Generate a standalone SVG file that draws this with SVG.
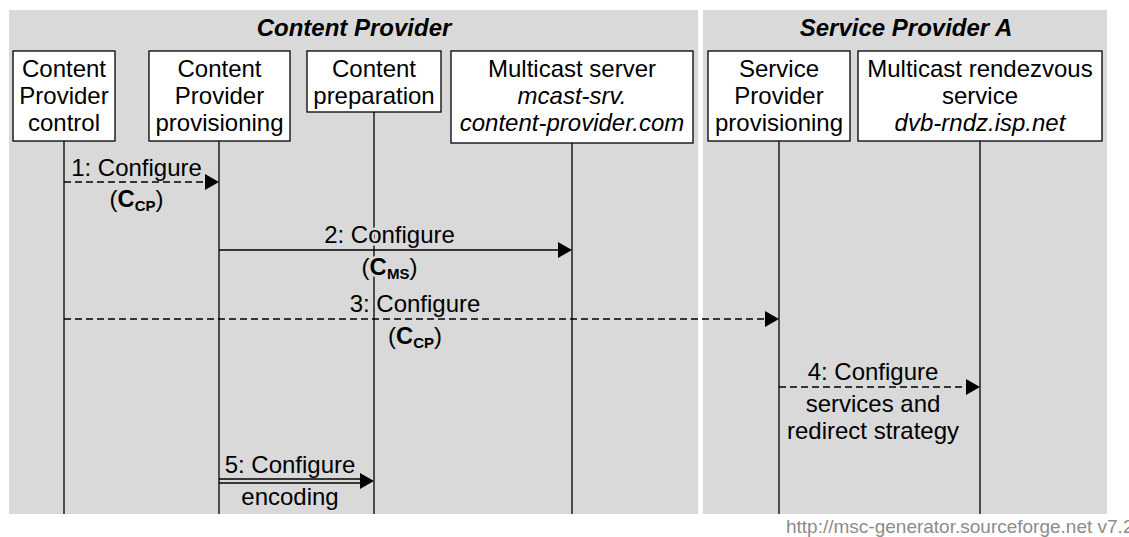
<svg xmlns="http://www.w3.org/2000/svg" width="1129" height="537" viewBox="0 0 1129 537">
<style>
text{font-family:"Liberation Sans",Arial,sans-serif;font-size:24px;fill:#000}
.hdr{font-weight:bold;font-style:italic;text-anchor:middle}
.ent{text-anchor:middle}
.it{font-style:italic}
.box{fill:#fff;stroke:#000;stroke-width:1.3}
.life{stroke:#000;stroke-width:1.3;fill:none}
.lbl{text-anchor:middle;stroke:#d9d9d9;stroke-width:5;stroke-linejoin:round;paint-order:stroke}
.solid{stroke:#000;stroke-width:1.3;fill:none}
.dash{stroke:#000;stroke-width:1.3;fill:none;stroke-dasharray:7,4}
.head{fill:#000}
.b{font-weight:bold}
.sub{font-weight:bold;font-size:15px}
</style>
<rect width="1129" height="537" fill="#fff"/>
<g id="group-content-provider">
<rect x="9" y="10" width="689" height="504" fill="#d9d9d9"/>
<text class="hdr" x="354" y="36">Content Provider</text>
</g>
<g id="group-service-provider-a">
<rect x="703" y="10" width="404" height="504" fill="#d9d9d9"/>
<text class="hdr" x="906" y="36">Service Provider A</text>
</g>
<g id="lifelines">
<line class="life" x1="64" y1="141" x2="64" y2="514"/>
<line class="life" x1="219" y1="141" x2="219" y2="514"/>
<line class="life" x1="374" y1="112" x2="374" y2="514"/>
<line class="life" x1="572" y1="143" x2="572" y2="514"/>
<line class="life" x1="779" y1="141" x2="779" y2="514"/>
<line class="life" x1="980" y1="141" x2="980" y2="514"/>
</g>
<g id="node-cp-control">
<rect class="box" x="13" y="51" width="102" height="90"/>
<text class="ent" x="64" y="77">Content</text>
<text class="ent" x="64" y="104">Provider</text>
<text class="ent" x="64" y="131">control</text>
</g>
<g id="node-cp-provisioning">
<rect class="box" x="149" y="51" width="141" height="90"/>
<text class="ent" x="219.5" y="77">Content</text>
<text class="ent" x="219.5" y="104">Provider</text>
<text class="ent" x="219.5" y="131">provisioning</text>
</g>
<g id="node-content-preparation">
<rect class="box" x="307" y="51" width="134" height="61"/>
<text class="ent" x="374" y="77">Content</text>
<text class="ent" x="374" y="104">preparation</text>
</g>
<g id="node-multicast-server">
<rect class="box" x="451" y="51" width="242" height="92"/>
<text class="ent" x="572" y="77">Multicast server</text>
<text class="ent it" x="572" y="104">mcast-srv.</text>
<text class="ent it" x="572" y="131">content-provider.com</text>
</g>
<g id="node-sp-provisioning">
<rect class="box" x="708" y="51" width="142" height="90"/>
<text class="ent" x="779" y="77">Service</text>
<text class="ent" x="779" y="104">Provider</text>
<text class="ent" x="779" y="131">provisioning</text>
</g>
<g id="node-rendezvous">
<rect class="box" x="858" y="51" width="244" height="90"/>
<text class="ent" x="980" y="77">Multicast rendezvous</text>
<text class="ent" x="980" y="104">service</text>
<text class="ent it" x="980" y="131">dvb-rndz.isp.net</text>
</g>
<g id="labels">
<text class="lbl" x="136.5" y="176">1: Configure</text>
<text class="lbl" x="136.5" y="207">(<tspan class="b">C</tspan><tspan class="sub" dy="4">CP</tspan><tspan dy="-4">)</tspan></text>
<text class="lbl" x="389.5" y="243">2: Configure</text>
<text class="lbl" x="389.5" y="275">(<tspan class="b">C</tspan><tspan class="sub" dy="4">MS</tspan><tspan dy="-4">)</tspan></text>
<text class="lbl" x="415" y="312">3: Configure</text>
<text class="lbl" x="415" y="344">(<tspan class="b">C</tspan><tspan class="sub" dy="4">CP</tspan><tspan dy="-4">)</tspan></text>
<text class="lbl" x="873" y="380">4: Configure</text>
<text class="lbl" x="873" y="412">services and</text>
<text class="lbl" x="873" y="439">redirect strategy</text>
<text class="lbl" x="290" y="473">5: Configure</text>
<text class="lbl" x="290" y="505">encoding</text>
</g>
<g id="connectors">
<line class="dash" x1="64" y1="182" x2="206" y2="182"/>
<polygon class="head" points="205,174 219,182 205,190"/>
<line class="solid" x1="219" y1="250" x2="560" y2="250"/>
<polygon class="head" points="558,242 572,250 558,258"/>
<line class="dash" x1="64" y1="319" x2="767" y2="319"/>
<polygon class="head" points="765,311 779,319 765,327"/>
<line class="dash" x1="779" y1="387" x2="968" y2="387"/>
<polygon class="head" points="966,379 980,387 966,395"/>
<line class="solid" x1="219" y1="479" x2="364" y2="479"/>
<line class="solid" x1="219" y1="483" x2="364" y2="483"/>
<polygon class="head" points="360,473 374,481 360,489"/>
</g>
<text x="786" y="533" style="font-size:19px;fill:#8c8c8c">http://msc-generator.sourceforge.net v7.2</text>
</svg>
